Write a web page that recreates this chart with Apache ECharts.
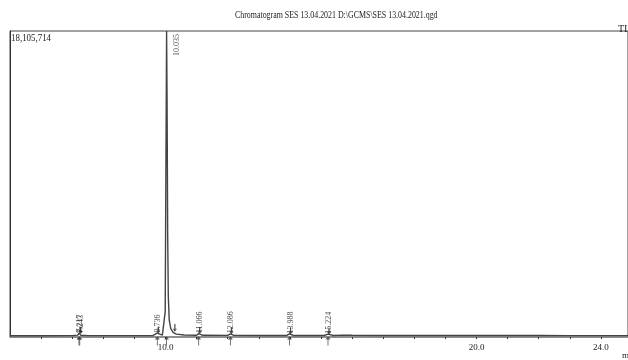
<!DOCTYPE html>
<html>
<head>
<meta charset="utf-8">
<script src="https://cdn.jsdelivr.net/npm/echarts@6/dist/echarts.min.js"></script>
<style>html,body{margin:0;padding:0;background:#fff}#c{width:628px;height:360px}</style>
</head>
<body>
<div id="c"></div>
<script>
// ---- data ----
const titleText = 'Chromatogram SES 13.04.2021 D:\\GCMS\\SES 13.04.2021.qgd';
const fullScale = 18105714;
const fullScaleLabel = '18,105,714';
// chromatogram trace: retention time (min) and intensity
const traceTime = [5.0, 6.0, 7.0, 7.18, 7.217, 7.23, 7.243, 7.28, 7.5, 8.5, 9.6, 9.736, 9.8, 9.9, 9.96, 9.99, 10.01, 10.035, 10.05, 10.07, 10.09, 10.12, 10.17, 10.25, 10.35, 10.6, 11.0, 11.066, 11.2, 12.0, 12.086, 12.2, 13.0, 13.9, 13.988, 14.1, 15.1, 15.224, 15.4, 15.7, 16.0, 17.0, 18.0, 19.0, 20.0, 21.0, 22.0, 23.0, 24.0, 24.87];
const traceInt  = [70000, 70000, 80000, 110000, 230000, 150000, 210000, 100000, 80000, 80000, 90000, 230000, 120000, 110000, 200000, 1500000, 9000000, 18105714, 14000000, 6000000, 2400000, 1000000, 500000, 260000, 170000, 120000, 100000, 200000, 100000, 95000, 190000, 95000, 90000, 90000, 180000, 90000, 90000, 170000, 90000, 110000, 100000, 90000, 85000, 85000, 85000, 85000, 85000, 80000, 80000, 80000];
// labelled peaks
const peakTimes  = [7.217, 7.243, 9.736, 11.066, 12.086, 13.988, 15.224];
const peakLabels = ['7.217', '7.243', '9.736', '11.066', '12.086', '13.988', '15.224'];
const peakHeights = [230000, 210000, 230000, 200000, 190000, 180000, 170000];
const mainPeakTime = 10.035;
const mainPeakLabel = '10.035';
const endMarkTime = 10.3;
// tick labels
const tickValues = [10, 20, 24];
const tickLabels = ['10.0', '20.0', '24.0'];

const serif = '"Liberation Serif", "DejaVu Serif", serif';
const trace = traceTime.map((t, i) => [t, traceInt[i]]);
const peaks = peakTimes.map((t, i) => ({ value: [t, peakHeights[i]], name: peakLabels[i] }));
const underMarks = peakTimes.concat([mainPeakTime]).map(t => [t, 0]);

const chart = echarts.init(document.getElementById('c'), null, { renderer: 'canvas' });
chart.setOption({
  animation: false,
  backgroundColor: '#fff',
  graphic: [
    { type: 'text', x: 235, y: 10, scaleX: 0.79, style: { text: titleText, font: '10px ' + serif, fill: '#222' } },
    { type: 'text', x: 11, y: 33, scaleX: 0.89, style: { text: fullScaleLabel, font: '10px ' + serif, fill: '#222' } },
    { type: 'text', x: 618, y: 24, style: { text: 'TI', font: '10px ' + serif, fill: '#222' } },
    { type: 'text', x: 622, y: 351, style: { text: 'm', font: '9px ' + serif, fill: '#222' } }
  ],
  grid: { left: 10, right: -2, top: 31, bottom: 23, show: true, borderColor: '#444', borderWidth: 1, backgroundColor: 'transparent' },
  xAxis: {
    type: 'value', min: 5, max: 24.87, interval: 1,
    axisLine: { show: true, lineStyle: { color: '#888', width: 1.5 } },
    axisTick: { show: true, length: 2, lineStyle: { color: '#333' } },
    splitLine: { show: false },
    axisLabel: {
      showMinLabel: false, showMaxLabel: false, margin: 6,
      fontFamily: serif, fontSize: 9, color: '#222',
      formatter: v => { const i = tickValues.indexOf(Math.round(v * 100) / 100); return i >= 0 ? tickLabels[i] : ''; }
    }
  },
  yAxis: {
    type: 'value', min: 0, max: fullScale,
    axisLine: { show: true, lineStyle: { color: '#333' } },
    axisTick: { show: false }, axisLabel: { show: false }, splitLine: { show: false }
  },
  series: [
    {
      type: 'line', data: trace, showSymbol: false, symbol: 'none',
      lineStyle: { color: '#444', width: 1.4 }, z: 3
    },
    {
      type: 'scatter', data: peaks, symbol: 'path://M0,0 L2,0 L2,6 L4,6 L1,10 L-2,6 L0,6 Z', symbolSize: [4, 7],
      symbolOffset: [1, -3],
      itemStyle: { color: '#222' }, z: 4,
      label: {
        show: true, position: 'top', distance: -6, rotate: 90, align: 'left', verticalAlign: 'middle',
        formatter: p => p.name, fontFamily: serif, fontSize: 8, color: '#222'
      }
    },
    {
      type: 'scatter', data: [{ value: [mainPeakTime, fullScale], name: mainPeakLabel }], symbolSize: 0.1,
      itemStyle: { color: 'transparent' },
      label: {
        show: true, position: 'right', distance: 8, rotate: 90, align: 'right', verticalAlign: 'middle',
        offset: [-3, 2],
        formatter: p => p.name, fontFamily: serif, fontSize: 8, color: '#222'
      }
    },
    {
      type: 'scatter', data: [[endMarkTime, 300000]], symbol: 'path://M0,0 L2,0 L2,6 L4,6 L1,10 L-2,6 L0,6 Z',
      symbolSize: [4, 8], symbolOffset: [0, -4], itemStyle: { color: '#333' }
    },
    {
      type: 'scatter', data: underMarks, clip: false,
      symbol: 'path://M3,0 L0,4 L6,4 Z M2.5,4 L3.5,4 L3.5,12 L2.5,12 Z', symbolSize: [5, 9], symbolOffset: [0, 4],
      itemStyle: { color: '#333' }, z: 5
    }
  ]
});
</script>
</body>
</html>
